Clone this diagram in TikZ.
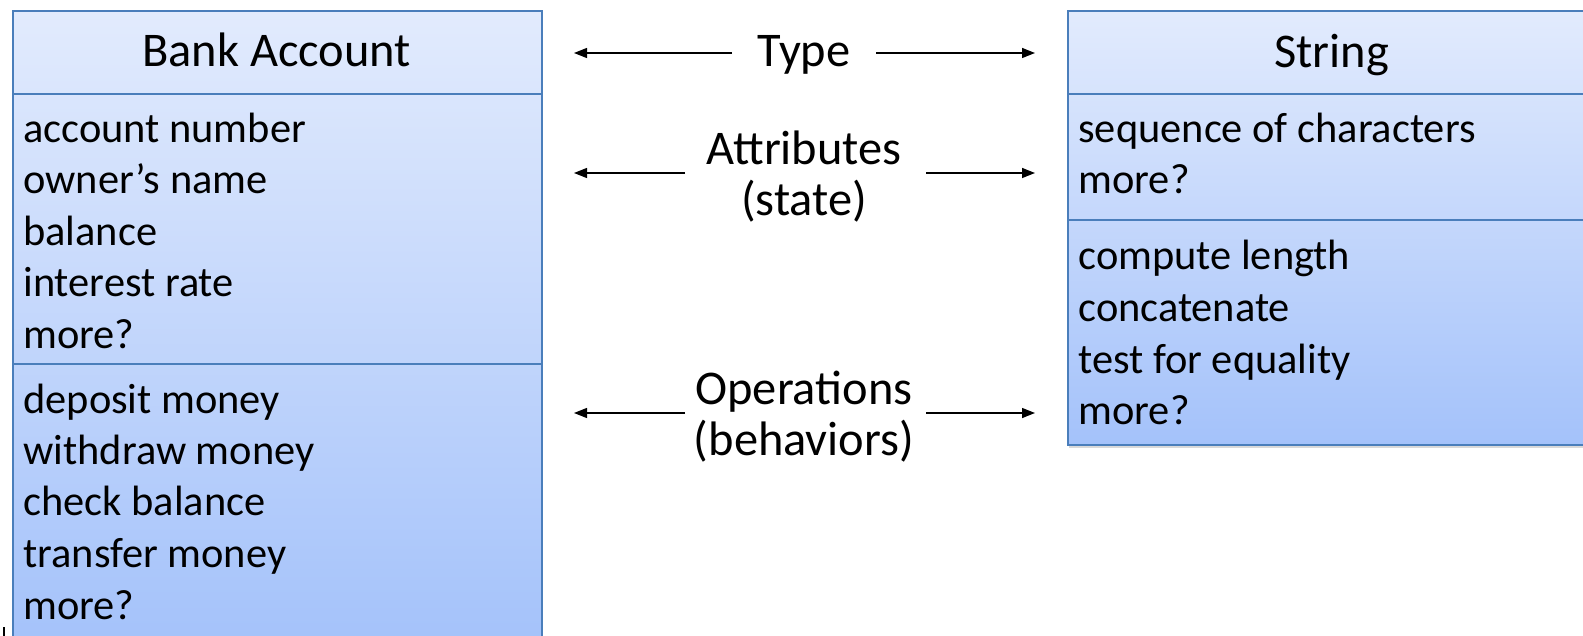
\documentclass[tikz,border=0pt]{standalone}
\usepackage{fontspec}
\setmainfont{Carlito}
\usepackage{xcolor}
\usetikzlibrary{
    arrows.meta,
    shadows,
    positioning
}
\definecolor{classtop}{RGB}{226,235,253}
\definecolor{classbot}{RGB}{164,194,250}
\definecolor{classline}{RGB}{74,126,187}
\newcommand{\boxfont}{\fontsize{21.2}{25.6}\selectfont}
\newcommand{\labelfont}{\fontsize{24.2}{29}\selectfont}

\begin{document}
\begin{tikzpicture}[x=0.5pt, y=-0.5pt, font=\boxfont,
    classbox/.style={draw=classline, line width=0.8pt, top color=classtop, bottom color=classbot,
        minimum width=264.5pt, anchor=north west, inner sep=0pt,
        drop shadow={shadow xshift=0.4pt, shadow yshift=-1.8pt, opacity=0.3}},
    sepline/.style={draw=classline, line width=0.8pt},
    member/.style={anchor=base west, inner sep=0pt},
    title/.style={anchor=base, inner sep=0pt, font=\labelfont},
    arr/.style={-{Triangle[length=6.5pt, width=5pt]}, line width=0.7pt}]
    \useasboundingbox (0,0) rectangle (1583,636);
    \begin{scope}[shift={(12, 10)}]
        \node[classbox, minimum height=317.5pt] (bank) at (0, 0) {};
        \draw[sepline] (0, 84) -- (529, 84)
        (0, 354) -- (529, 354);
        \node[title] (bankname) at (264.5, 57) {Bank Account};
        \node[member] (acctnum) at (11, 133) {account number};
        \node[member] (owner) at (11, 184) {owner’s name};
        \node[member] (balance) at (11, 235) {balance};
        \node[member] (rate) at (11, 286) {interest rate};
        \node[member] (bankmoreA) at (11, 338) {more?};
        \node[member] (deposit) at (11, 403) {deposit money};
        \node[member] (withdraw) at (11, 454) {withdraw money};
        \node[member] (check) at (11, 505) {check balance};
        \node[member] (transfer) at (11, 557) {transfer money};
        \node[member] (bankmoreO) at (11, 609) {more?};
    \end{scope}
    \begin{scope}[shift={(1067, 10)}]
        \node[classbox, minimum height=217pt] (string) at (0, 0) {};
        \draw[sepline] (0, 84) -- (529, 84)
        (0, 210) -- (529, 210);
        \node[title] (stringname) at (264.5, 58) {String};
        \node[member] (sequence) at (11, 133) {sequence of characters};
        \node[member] (strmoreA) at (11, 184) {more?};
        \node[member] (length) at (11, 260) {compute length};
        \node[member] (concat) at (11, 311) {concatenate};
        \node[member] (equal) at (11, 363) {test for equality};
        \node[member] (strmoreO) at (11, 414) {more?};
    \end{scope}
    % labels in the middle
    \node[title] (type) at (804, 67) {Type};
    \node[title] (attr) at (804, 165) {Attributes};
    \node[title] (state) at (804, 216) {(state)};
    \node[title] (ops) at (804, 404) {Operations};
    \node[title] (behav) at (804, 455) {(behaviors)};
    \coordinate (typeL) at (732, 53);
    \coordinate (typeR) at (876, 53);
    \coordinate (attrL) at (685, 173);
    \coordinate (attrR) at (926, 173);
    \coordinate (opsL) at (685, 413);
    \coordinate (opsR) at (926, 413);
    \coordinate (typeLtip) at (574, 53);
    \coordinate (typeRtip) at (1035, 53);
    \coordinate (attrLtip) at (574, 173);
    \coordinate (attrRtip) at (1035, 173);
    \coordinate (opsLtip) at (574, 413);
    \coordinate (opsRtip) at (1035, 413);
    \draw
    (typeL) edge[arr] (typeLtip)
    (typeR) edge[arr] (typeRtip)
    (attrL) edge[arr] (attrLtip)
    (attrR) edge[arr] (attrRtip)
    (opsL) edge[arr] (opsLtip)
    (opsR) edge[arr] (opsRtip);
    \draw[line width=1pt] (4, 627) -- (4, 636);
\end{tikzpicture}
\end{document}
